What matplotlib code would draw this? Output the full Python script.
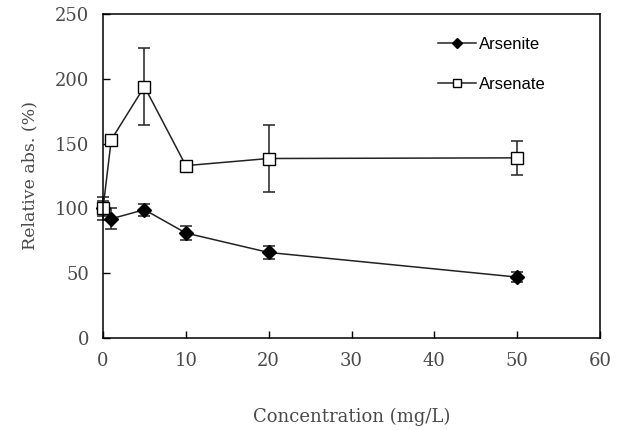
import numpy as np
import matplotlib
matplotlib.use("Agg")
import matplotlib.pyplot as plt

conc = [0, 1, 5, 10, 20, 50]
arsenite = [100, 92, 99, 81, 66, 47]
arsenite_err = [6, 8, 4.5, 5.5, 5, 4]
arsenate = [100, 153, 194, 133, 138.5, 139]
arsenate_err = [9, 2, 30, 2, 26, 13]

serif = "DejaVu Serif"
txt = "#4a4a4a"

fig = plt.figure(figsize=(6.43, 4.3), dpi=100)
ax = fig.add_axes([103 / 643, 92 / 430, 497 / 643, 324 / 430])

# error bars first, then the lines with markers on top
for y, e in [(arsenite, arsenite_err), (arsenate, arsenate_err)]:
    ax.errorbar(conc, y, yerr=e, fmt="none", ecolor="#222222",
                elinewidth=1.1, capsize=4, capthick=1.1, clip_on=False)

ax.plot(conc, arsenite, color="#222222", lw=1.1, marker="D", ms=7.5,
        mfc="black", mec="black", clip_on=False, label="Arsenite")
ax.plot(conc, arsenate, color="#222222", lw=1.1, marker="s", ms=9,
        mfc="white", mec="black", mew=1.0, clip_on=False, label="Arsenate")

ax.set_xlim(0, 60)
ax.set_ylim(0, 250)
ax.set_xticks(np.arange(0, 61, 10))
ax.set_yticks(np.arange(0, 251, 50))
ax.tick_params(direction="in", length=5, width=1, labelsize=13,
               labelcolor=txt, pad=10)
for lab in ax.get_xticklabels() + ax.get_yticklabels():
    lab.set_family(serif)
    lab.set_fontweight("light")
for s in ax.spines.values():
    s.set_linewidth(1.1)

ax.set_xlabel("Concentration (mg/L)", family=serif, fontsize=13,
              color=txt, labelpad=27)
ax.set_ylabel("Relative abs. (%)", family=serif, fontsize=12.5,
              color=txt, labelpad=12)

leg = ax.legend(loc="upper right", bbox_to_anchor=(0.92, 0.975), frameon=False,
                prop={"family": "Liberation Sans", "size": 12},
                labelspacing=1.5, handlelength=2.3, handletextpad=0.15,
                markerscale=0.7)

fig.savefig("out.png", dpi=100)
